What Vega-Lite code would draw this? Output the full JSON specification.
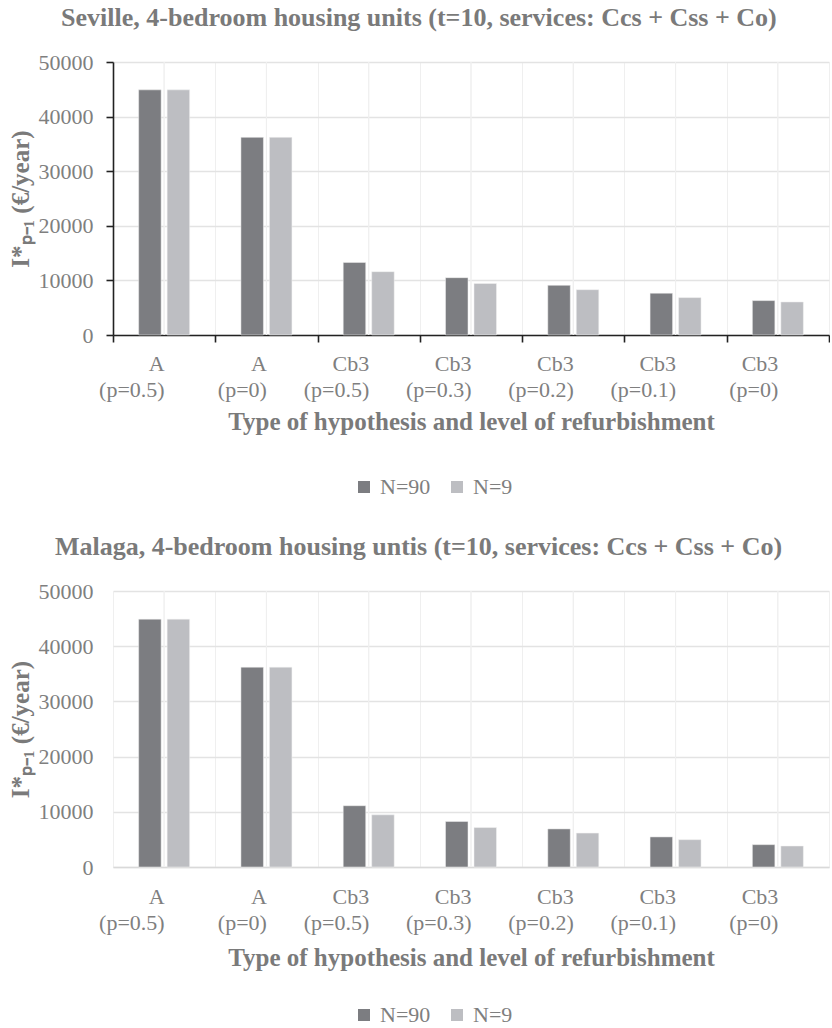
{
  "$schema": "https://vega.github.io/schema/vega-lite/v6.json",
  "background": "white",
  "padding": {"left": 8, "right": 0, "top": 5, "bottom": 0},
  "datasets": {
    "seville": [
      {"cat": "A|(p=0.5)", "n": "N=90", "v": 44900},
      {"cat": "A|(p=0.5)", "n": "N=9", "v": 44900},
      {"cat": "A|(p=0)", "n": "N=90", "v": 36200},
      {"cat": "A|(p=0)", "n": "N=9", "v": 36200},
      {"cat": "Cb3|(p=0.5)", "n": "N=90", "v": 13300},
      {"cat": "Cb3|(p=0.5)", "n": "N=9", "v": 11600},
      {"cat": "Cb3|(p=0.3)", "n": "N=90", "v": 10500},
      {"cat": "Cb3|(p=0.3)", "n": "N=9", "v": 9450},
      {"cat": "Cb3|(p=0.2)", "n": "N=90", "v": 9100},
      {"cat": "Cb3|(p=0.2)", "n": "N=9", "v": 8300},
      {"cat": "Cb3|(p=0.1)", "n": "N=90", "v": 7650},
      {"cat": "Cb3|(p=0.1)", "n": "N=9", "v": 6850},
      {"cat": "Cb3|(p=0)", "n": "N=90", "v": 6300},
      {"cat": "Cb3|(p=0)", "n": "N=9", "v": 6050}
    ],
    "malaga": [
      {"cat": "A|(p=0.5)", "n": "N=90", "v": 44900},
      {"cat": "A|(p=0.5)", "n": "N=9", "v": 44900},
      {"cat": "A|(p=0)", "n": "N=90", "v": 36200},
      {"cat": "A|(p=0)", "n": "N=9", "v": 36200},
      {"cat": "Cb3|(p=0.5)", "n": "N=90", "v": 11100},
      {"cat": "Cb3|(p=0.5)", "n": "N=9", "v": 9450},
      {"cat": "Cb3|(p=0.3)", "n": "N=90", "v": 8250},
      {"cat": "Cb3|(p=0.3)", "n": "N=9", "v": 7150},
      {"cat": "Cb3|(p=0.2)", "n": "N=90", "v": 6900},
      {"cat": "Cb3|(p=0.2)", "n": "N=9", "v": 6150},
      {"cat": "Cb3|(p=0.1)", "n": "N=90", "v": 5450},
      {"cat": "Cb3|(p=0.1)", "n": "N=9", "v": 4950},
      {"cat": "Cb3|(p=0)", "n": "N=90", "v": 4050},
      {"cat": "Cb3|(p=0)", "n": "N=9", "v": 3800}
    ]
  },
  "config": {
    "font": "Liberation Serif",
    "view": {"stroke": null},
    "title": {"font": "Liberation Serif", "fontSize": 26, "fontWeight": "bold", "color": "#7a7a7a", "anchor": "middle", "frame": "bounds"},
    "axis": {
      "labelFont": "Liberation Serif", "labelFontSize": 22, "labelColor": "#7f7f7f",
      "titleFont": "Liberation Serif", "titleFontSize": 25, "titleFontWeight": "bold", "titleColor": "#7a7a7a"
    },
    "legend": {
      "labelFont": "Liberation Serif", "labelFontSize": 22, "labelColor": "#7f7f7f",
      "symbolType": "square", "symbolSize": 144, "symbolStrokeWidth": 0,
      "orient": "none", "direction": "horizontal", "title": null, "columnPadding": 15, "labelOffset": 5
    }
  },
  "spacing": 36,
  "resolve": {"scale": {"color": "independent"}, "legend": {"color": "independent"}},
  "vconcat": [
    {
      "title": {"text": "Seville, 4-bedroom housing units (t=10, services: Ccs + Css + Co)", "offset": 20},
      "width": 716,
      "height": 273,
      "data": {"name": "seville"},
      "layer": [
        {
          "mark": {"type": "rule", "color": "#efefef", "strokeWidth": 1},
          "encoding": {
            "x": {"field": "cat", "type": "nominal", "sort": null}
          }
        },
        {
          "mark": {"type": "bar", "stroke": "#f2f2f2", "strokeWidth": 0.5},
          "encoding": {
            "x": {
              "field": "cat", "type": "nominal", "sort": null,
              "scale": {"paddingInner": 0, "paddingOuter": 0},
              "axis": {
                "title": "Type of hypothesis and level of refurbishment",
                "labelExpr": "split(datum.label, '|')", "labelAngle": 0, "labelLineHeight": 26,
                "labelPadding": 21, "titlePadding": 9,
                "tickBand": "extent", "grid": true, "gridColor": "#efefef", "gridWidth": 1,
                "domainColor": "#222222", "domainWidth": 1.6, "tickColor": "#222222", "tickWidth": 1.6, "tickSize": 7
              }
            },
            "xOffset": {"field": "n", "type": "nominal", "sort": ["N=90", "N=9"], "scale": {"paddingInner": 0.21, "paddingOuter": 0.9}},
            "y": {
              "field": "v", "type": "quantitative",
              "scale": {"domain": [0, 50000], "nice": false},
              "axis": {
                "title": "I*ₚ₋₁ (€/year)", "values": [0, 10000, 20000, 30000, 40000, 50000], "format": "d",
                "gridColor": "#e3e3e3", "gridWidth": 1.5,
                "domainColor": "#222222", "domainWidth": 1.6, "tickColor": "#222222", "tickWidth": 1.6, "tickSize": 7,
                "labelPadding": 13, "titlePadding": 5
              }
            },
            "color": {
              "field": "n", "type": "nominal",
              "scale": {"domain": ["N=90", "N=9"], "range": ["#7c7d81", "#bdbec2"]},
              "legend": {"legendX": 240, "legendY": 414}
            }
          }
        }
      ]
    },
    {
      "title": {"text": "Malaga, 4-bedroom housing untis (t=10, services: Ccs + Css + Co)", "offset": 20},
      "width": 716,
      "height": 276,
      "data": {"name": "malaga"},
      "layer": [
        {
          "mark": {"type": "rule", "color": "#efefef", "strokeWidth": 1},
          "encoding": {
            "x": {"field": "cat", "type": "nominal", "sort": null}
          }
        },
        {
          "mark": {"type": "bar", "stroke": "#f2f2f2", "strokeWidth": 0.5},
          "encoding": {
            "x": {
              "field": "cat", "type": "nominal", "sort": null,
              "scale": {"paddingInner": 0, "paddingOuter": 0},
              "axis": {
                "title": "Type of hypothesis and level of refurbishment",
                "labelExpr": "split(datum.label, '|')", "labelAngle": 0, "labelLineHeight": 26,
                "labelPadding": 29, "titlePadding": 12,
                "tickBand": "extent", "grid": true, "gridColor": "#efefef", "gridWidth": 1,
                "domainColor": "#d9d9d9", "domainWidth": 1.5, "ticks": false
              }
            },
            "xOffset": {"field": "n", "type": "nominal", "sort": ["N=90", "N=9"], "scale": {"paddingInner": 0.21, "paddingOuter": 0.9}},
            "y": {
              "field": "v", "type": "quantitative",
              "scale": {"domain": [0, 50000], "nice": false},
              "axis": {
                "title": "I*ₚ₋₁ (€/year)", "values": [0, 10000, 20000, 30000, 40000, 50000], "format": "d",
                "gridColor": "#e3e3e3", "gridWidth": 1.5,
                "domain": false, "ticks": false,
                "labelPadding": 20, "titlePadding": 5
              }
            },
            "color": {
              "field": "n", "type": "nominal",
              "scale": {"domain": ["N=90", "N=9"], "range": ["#7c7d81", "#bdbec2"]},
              "legend": {"legendX": 240, "legendY": 413}
            }
          }
        }
      ]
    }
  ]
}
